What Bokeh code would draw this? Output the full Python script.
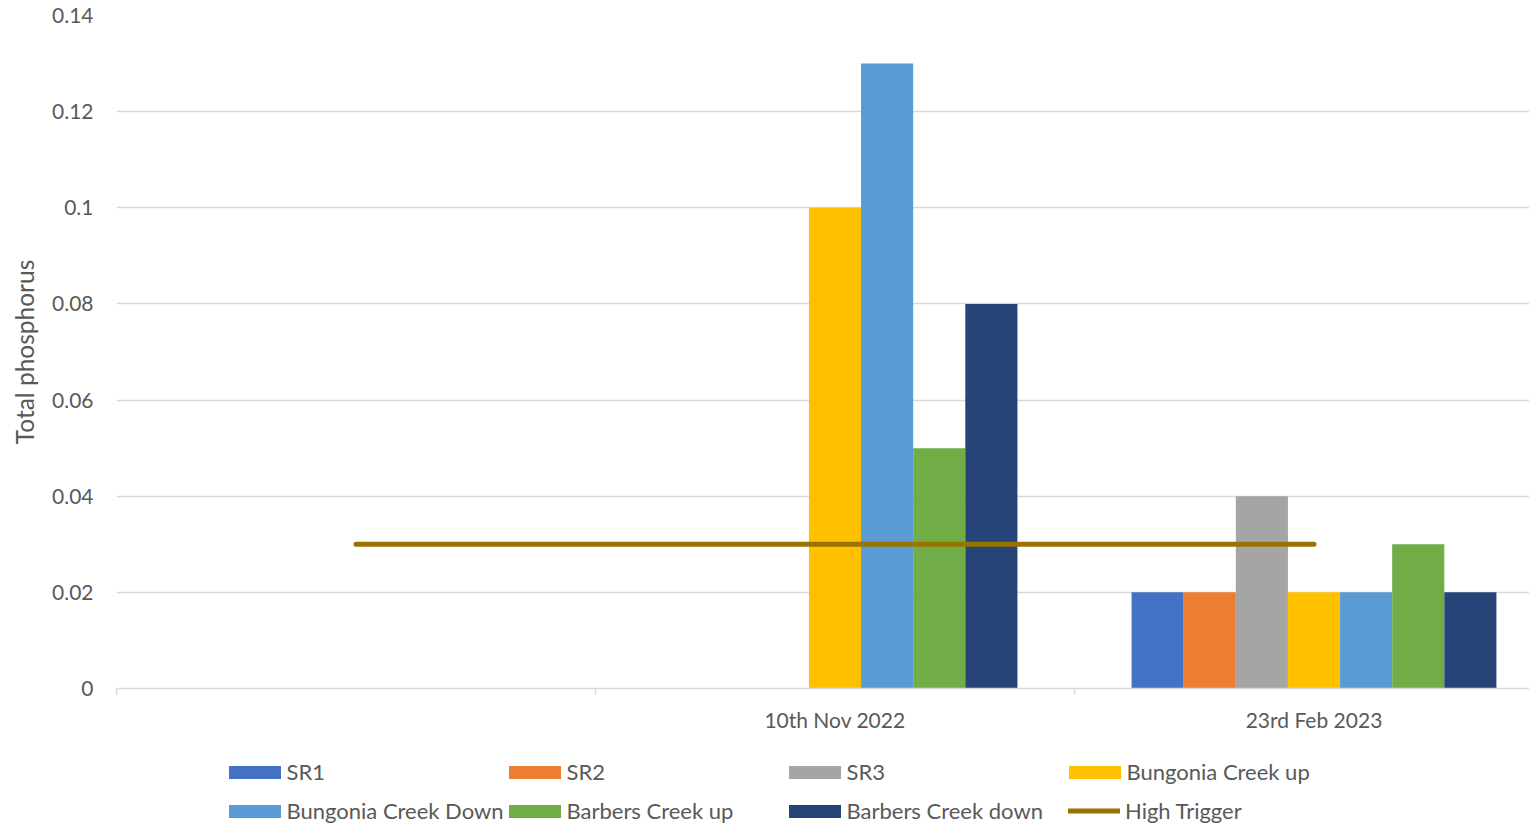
from bokeh.plotting import figure
from bokeh.layouts import column
from bokeh.models import (ColumnDataSource, Range1d, FixedTicker, Legend, LegendItem)
from bokeh.embed import file_html
from bokeh.resources import INLINE

# ---------------- data ----------------
dates = ["", "10th Nov 2022", "23rd Feb 2023"]
series_names = ["SR1", "SR2", "SR3", "Bungonia Creek up", "Bungonia Creek Down",
                "Barbers Creek up", "Barbers Creek down"]
SR1 = [None, None, 0.02]
SR2 = [None, None, 0.02]
SR3 = [None, None, 0.04]
bungonia_up = [None, 0.10, 0.02]
bungonia_down = [None, 0.13, 0.02]
barbers_up = [None, 0.05, 0.03]
barbers_down = [None, 0.08, 0.02]
high_trigger = [0.03, 0.03, 0.03]
trigger_name = "High Trigger"
y_ticks = [0, 0.02, 0.04, 0.06, 0.08, 0.10, 0.12, 0.14]
y_tick_labels = ["0", "0.02", "0.04", "0.06", "0.08", "0.1", "0.12", "0.14"]

series_values = [SR1, SR2, SR3, bungonia_up, bungonia_down, barbers_up, barbers_down]
colors = ["#4472C4", "#ED7D31", "#A5A5A5", "#FFC000", "#5B9BD5", "#70AD47", "#264478"]
trigger_color = "#997300"

FONT = "Lato"
TXT = "#595959"
GRID = "#D9D9D9"
FS = "21px"
LFS = "22px"

# ---------------- main figure ----------------
W = 1529
H1 = 745
p = figure(width=W, height=H1, output_backend="svg", toolbar_location=None,
           x_range=Range1d(0, 1413 / 479), y_range=Range1d(0, 0.14),
           min_border_left=116, min_border_right=0, min_border_top=15,
           min_border_bottom=57)
p.outline_line_color = None
p.background_fill_color = "white"
p.border_fill_color = "white"

nser = len(series_values)
gap = 2.19
bw = 1.0 / (nser + gap)

sources = []
for i, (vals, col) in enumerate(zip(series_values, colors)):
    xs, tops = [], []
    for j, v in enumerate(vals):
        if v is not None:
            xs.append(j + 0.5 + (i - (nser - 1) / 2) * bw)
            tops.append(v)
    src = ColumnDataSource(dict(x=xs, top=tops))
    sources.append(src)
    p.vbar(x="x", top="top", bottom=0, width=bw, source=src,
           fill_color=col, line_color=None)

tsrc = ColumnDataSource(dict(x=[j + 0.5 for j in range(len(dates))], y=high_trigger))
p.line(x="x", y="y", source=tsrc, line_color=trigger_color, line_width=5,
       line_cap="round")

p.xgrid.visible = False
p.ygrid.grid_line_color = GRID
p.ygrid.grid_line_width = 1.3
p.ygrid.ticker = FixedTicker(ticks=y_ticks)

ya = p.yaxis[0]
ya.ticker = FixedTicker(ticks=y_ticks)
ya.major_label_overrides = {t: l for t, l in zip(y_ticks, y_tick_labels)}
ya.axis_line_color = None
ya.major_tick_line_color = None
ya.minor_tick_line_color = None
ya.major_tick_out = 0
ya.minor_tick_out = 0
ya.major_label_standoff = 23
ya.major_label_text_font = FONT
ya.major_label_text_font_size = FS
ya.major_label_text_color = TXT
ya.axis_label = "Total phosphorus"
ya.axis_label_text_font = FONT
ya.axis_label_text_font_size = "24.5px"
ya.axis_label_text_font_style = "normal"
ya.axis_label_text_color = TXT
ya.axis_label_standoff = 10

xa = p.xaxis[0]
centers = [j + 0.5 for j in range(len(dates))]
xa.ticker = FixedTicker(ticks=centers, minor_ticks=list(range(len(dates) + 1)))
xa.major_label_overrides = {c: d for c, d in zip(centers, dates)}
xa.axis_line_color = GRID
xa.axis_line_width = 1.5
xa.major_tick_line_color = None
xa.major_tick_out = 0
xa.major_tick_in = 0
xa.minor_tick_line_color = GRID
xa.minor_tick_line_width = 1.5
xa.minor_tick_out = 6
xa.minor_tick_in = 0
xa.major_label_standoff = 12
xa.major_label_text_font = FONT
xa.major_label_text_font_size = FS
xa.major_label_text_color = TXT

# ---------------- legend strip ----------------
# proxy renderers share the series' sources; the strip's y-range lies above
# every value so only their legend swatches are seen.
H2 = 80
q = figure(width=W, height=H2, output_backend="svg", toolbar_location=None,
           x_axis_type=None, y_axis_type=None,
           x_range=Range1d(0, 1413 / 479), y_range=Range1d(1, 2),
           min_border_left=0, min_border_right=0, min_border_top=0,
           min_border_bottom=0)
q.outline_line_color = None
q.xgrid.visible = False
q.ygrid.visible = False

swatches = []
for src, col in zip(sources, colors):
    swatches.append(q.vbar(x="x", top="top", bottom=0, width=bw, source=src,
                           fill_color=col, line_color=None))
swatches.append(q.line(x="x", y="y", source=tsrc, line_color=trigger_color,
                       line_width=5, line_cap="round"))

legend_names = series_names + [trigger_name]
col_x = [112, 392, 672, 952]
row_c = [26.5, 65.5]
LH = 30
for k, (name, r) in enumerate(zip(legend_names, swatches)):
    row, c = divmod(k, 4)
    is_line = (k == len(legend_names) - 1)
    # area swatches are drawn at 80% of the glyph box
    gw, gh, st, dx = (52, 13, 5, 0) if is_line else (65, 16, 0, -6.5)
    lg = Legend(items=[LegendItem(label=name, renderers=[r])],
                location=(col_x[c] + dx, H2 - (row_c[row] + LH / 2)),
                orientation="horizontal", padding=0, margin=0, spacing=0,
                glyph_width=gw, glyph_height=gh, label_standoff=st,
                label_height=LH, label_text_font=FONT, label_text_font_size=LFS,
                label_text_color=TXT, border_line_color=None,
                background_fill_alpha=0)
    q.add_layout(lg, "center")

layout = column(p, q, spacing=0)
open("out.html", "w").write(file_html(layout, INLINE))
